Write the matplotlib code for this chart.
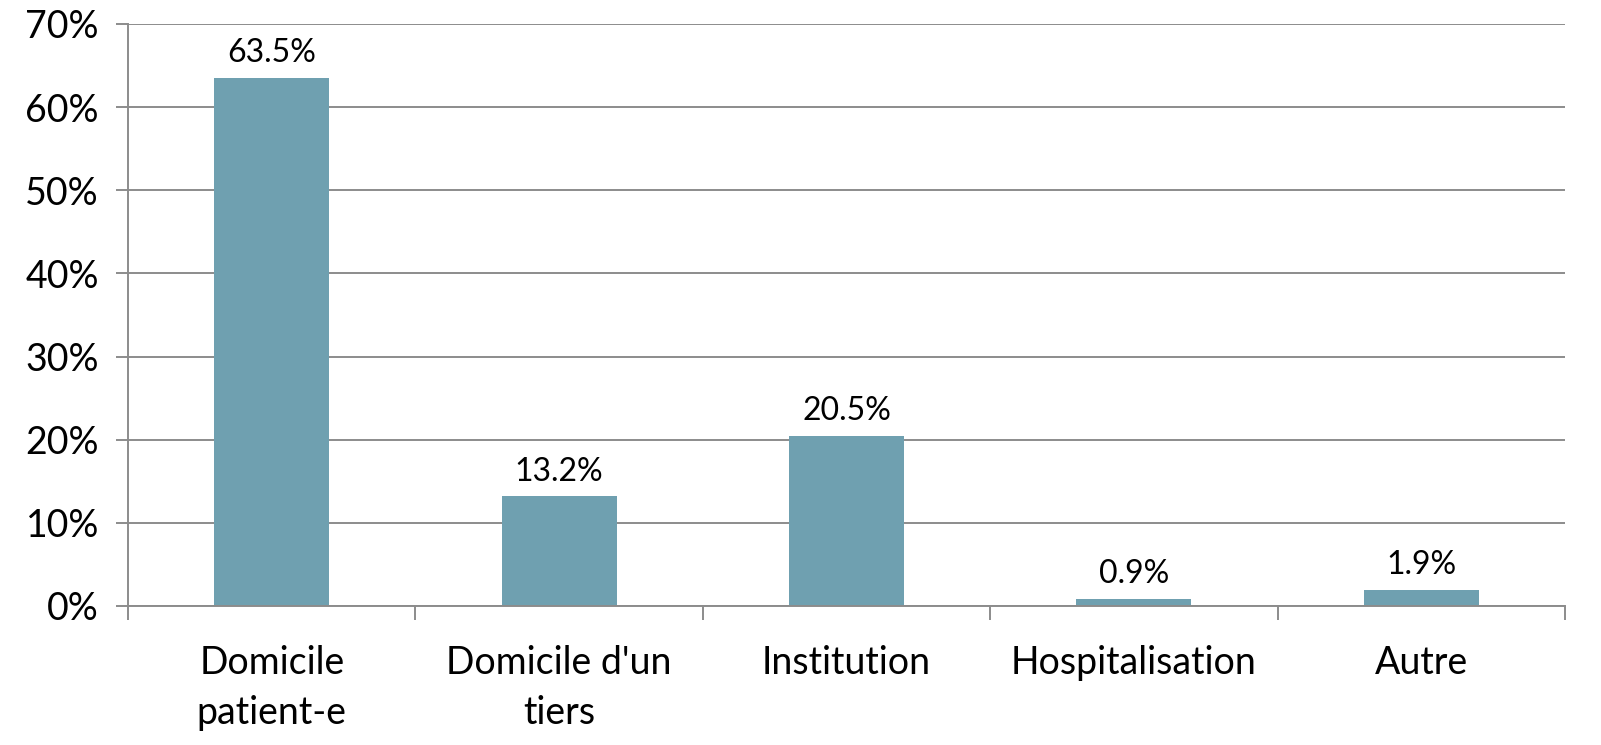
import numpy as np
import matplotlib.pyplot as plt
from matplotlib.ticker import FixedLocator, PercentFormatter

# Données
categories = ["Domicile\npatient-e", "Domicile d'un\ntiers", "Institution", "Hospitalisation", "Autre"]
valeurs = [63.5, 13.2, 20.5, 0.9, 1.9]

plt.rcParams['font.family'] = ['Lato', 'DejaVu Sans']

fig = plt.figure(figsize=(16.01, 7.45), dpi=100)
ax = fig.add_axes([0.0800, 0.1866, 0.8975, 0.7812])

x = np.arange(len(categories))
barres = ax.bar(x, valeurs, width=0.40, color='#6fa0b0', zorder=3)

# Étiquettes au-dessus des barres
for xi, v in zip(x, valeurs):
    ax.annotate(f"{v:.1f}%", (xi, v), xytext=(0, 7), textcoords='offset points',
                ha='center', va='bottom', fontsize=23)

ax.set_xlim(-0.5, len(categories) - 0.5)
ax.set_ylim(0, 70)
ax.set_yticks(np.arange(0, 71, 10))
ax.yaxis.set_major_formatter(PercentFormatter(decimals=0))
ax.grid(axis='y', color='#8c8c8c', linewidth=1.4, zorder=0)

ax.set_xticks(x)
ax.set_xticklabels(categories, fontsize=27, linespacing=1.5)
ax.xaxis.set_minor_locator(FixedLocator(np.arange(-0.5, len(categories), 1.0)))
ax.tick_params(axis='x', which='major', length=0, pad=28)
ax.tick_params(axis='x', which='minor', length=10, width=1.4, color='#8c8c8c')
ax.tick_params(axis='y', labelsize=27, length=9, width=1.4, color='#8c8c8c', pad=12)

for s in ['top', 'right']:
    ax.spines[s].set_visible(False)
for s in ['left', 'bottom']:
    ax.spines[s].set_color('#8c8c8c')
    ax.spines[s].set_linewidth(1.4)
ax.spines['bottom'].set_zorder(4)

fig.savefig('out.png', dpi=100)
